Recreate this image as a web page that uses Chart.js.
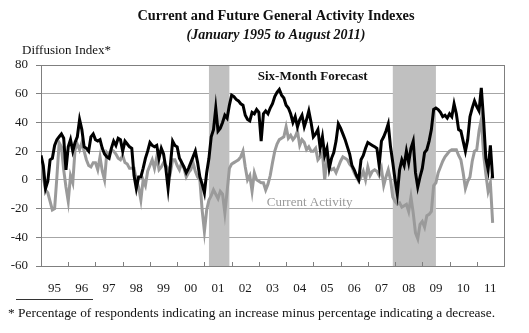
<!DOCTYPE html>
<html>
<head>
<meta charset="utf-8">
<script src="https://cdn.jsdelivr.net/npm/chart.js@4.4.0/dist/chart.umd.min.js"></script>
<style>
	body { margin:0; background:#fff; }
	#wrap { width:529px; height:333px; }
</style>
</head>
<body>
<div id="wrap"><canvas id="myChart" width="529" height="333"></canvas></div>
<script>
// monthly values, Jan 1995 .. Aug 2011 (index 0 = Jan 1995)
const yearLabels = ['95','96','97','98','99','00','01','02','03','04','05','06','07','08','09','10','11'];

const forecast = [
17,10,-6,-1,14,15,24,28,30,32,29,7,
23,28,20,26,30,42,35,23,22,20,30,32,
28,27,28,22,18,16,15,22,27,24,29,28,
20,27,25,23,22,3,-6,2,2,8,15,20,
26,24,23,24,15,22,18,8,-6,10,27,24,
23,15,12,9,5,8,12,16,20,12,2,-3,
-9,5,15,30,35,50,34,36,40,45,43,52,
59,58,56,55,53,52,45,42,41,47,46,49,
47,27,46,48,46,50,53,58,61,63,59,57,
52,50,46,40,44,37,42,45,37,42,48,40,
30,32,35,22,30,17,22,8,15,19,27,39,
36,32,28,23,18,10,7,3,0,14,17,22,
26,25,24,23,22,10,27,30,34,39,23,12,
0,-10,7,14,10,20,12,22,27,5,-5,2,
8,19,21,27,35,49,50,49,47,44,45,43,
46,44,53,46,35,34,27,20,28,44,50,55,
51,48,64,42,15,7,24,1];

const current = [
16,2,-7,-9,-15,-21,-20,2,26,23,7,-5,
-15,3,-2,21,25,21,26,20,14,10,9,12,
12,7,16,6,0,19,17,21,20,18,15,14,
17,12,11,8,8,8,0,-5,-14,0,-4,6,
10,14,8,16,7,9,12,10,8,5,14,14,
10,7,12,8,2,5,7,12,6,2,0,-21,
-36,-21,-14,-11,-7,-10,-13,-8,-10,-23,-8,8,
11,12,13,14,16,20,9,0,3,-8,5,0,
-1,-2,-2,-7,-3,3,12,20,25,28,29,30,
37,29,31,28,30,34,24,28,26,21,23,20,
20,22,14,16,19,0,14,9,7,8,5,9,
13,16,15,14,11,9,5,2,-1,2,6,0,
9,3,6,7,6,3,8,-4,2,7,0,-12,
-15,-17,-16,-19,-18,-17,-22,-12,-23,-37,-41,-31,
-29,-33,-25,-24,-22,-4,-2,5,9,13,16,18,
20,21,21,21,17,14,5,-6,-1,2,13,20,
21,34,42,18,4,-8,-2,-30];

// recessions, in month index (start, end)
const recessionStart = [74, 155];
const recessionEnd = [83, 174];

const serif = "'Liberation Serif', 'DejaVu Serif', serif";

const deko = {
	id: 'deko',
	beforeDatasetsDraw(chart) {
		const {ctx, chartArea: a, scales: {x}} = chart;
		ctx.save();
		ctx.fillStyle = '#c0c0c0';
		for (let i = 0; i < recessionStart.length; i++) {
			const x1 = x.getPixelForValue(recessionStart[i]);
			const x2 = x.getPixelForValue(recessionEnd[i]);
			ctx.fillRect(x1, a.top, x2 - x1, a.bottom - a.top);
		}
		ctx.strokeStyle = '#7f7f7f';
		ctx.lineWidth = 1;
		ctx.strokeRect(Math.round(a.left) + 0.5, Math.round(a.top) + 0.5, Math.round(a.right - a.left), Math.round(a.bottom - a.top));
		// small ticks pointing into the plot
		ctx.beginPath();
		x.ticks.forEach(t => {
			const px = Math.round(x.getPixelForValue(t.value)) + 0.5;
			ctx.moveTo(px, a.bottom);
			ctx.lineTo(px, a.bottom - 4);
		});
		ctx.stroke();
		ctx.restore();
	},
	afterDraw(chart) {
		const {ctx, scales: {x, y}} = chart;
		ctx.save();
		ctx.fillStyle = '#111';
		ctx.textBaseline = 'middle';
		ctx.textAlign = 'center';
		ctx.font = 'bold 14.3px ' + serif;
		ctx.fillText('Current and Future General Activity Indexes', 276, 16);
		ctx.font = 'italic bold 14px ' + serif;
		ctx.fillText('(January 1995 to August 2011)', 276, 35);
		ctx.textAlign = 'left';
		ctx.font = '13px ' + serif;
		ctx.fillText('Diffusion Index*', 22, 51);
		ctx.font = '13.4px ' + serif;
		ctx.fillText('* Percentage of respondents indicating an increase minus percentage indicating a decrease.', 8, 313);
		ctx.font = 'bold 13px ' + serif;
		ctx.fillText('Six-Month Forecast', x.getPixelForValue(95.5), y.getPixelForValue(72));
		ctx.fillStyle = '#9a9a9a';
		ctx.font = '13px ' + serif;
		ctx.fillText('Current Activity', x.getPixelForValue(99.5), y.getPixelForValue(-16));
		ctx.strokeStyle = '#333';
		ctx.lineWidth = 1;
		ctx.beginPath();
		ctx.moveTo(16, 299.5);
		ctx.lineTo(93, 299.5);
		ctx.stroke();
		ctx.restore();
	}
};

new Chart('myChart', {
	type: 'line',
	data: {
		datasets: [
			{
				label: 'Six-Month Forecast',
				data: forecast.map((v, i) => ({x: i, y: v})),
				borderColor: '#000',
				borderWidth: 3,
				pointRadius: 0,
				fill: false,
				order: 0
			},
			{
				label: 'Current Activity',
				data: current.map((v, i) => ({x: i, y: v})),
				borderColor: '#9a9a9a',
				borderWidth: 3,
				pointRadius: 0,
				fill: false,
				order: 1
			}
		]
	},
	options: {
		responsive: false,
		animation: false,
		devicePixelRatio: 1,
		layout: { padding: { top: 65, right: 25, bottom: 0, left: 0 } },
		plugins: { legend: { display: false }, tooltip: { enabled: false } },
		scales: {
			x: {
				type: 'linear',
				min: 0,
				max: 204,
				afterBuildTicks: s => {
					s.ticks = [];
					for (let v = 0; v <= 204; v += 12) s.ticks.push({value: v});
				},
				afterFit: s => { s.height = 67; },
				grid: { display: false },
				border: { display: false },
				ticks: {
					autoSkip: false,
					maxRotation: 0,
					labelOffset: 13.6,
					padding: 7,
					color: '#1a1a1a',
					font: { family: serif, size: 13 },
					callback: (v, i) => yearLabels[i] ?? ''
				}
			},
			y: {
				min: -60,
				max: 80,
				afterFit: s => { s.width = 41; },
				grid: { color: '#a6a6a6', tickLength: 5, tickColor: '#7f7f7f' },
				border: { display: false },
				ticks: {
					stepSize: 20,
					padding: 8,
					color: '#1a1a1a',
					font: { family: serif, size: 13 }
				}
			}
		}
	},
	plugins: [deko]
});
</script>
</body>
</html>
